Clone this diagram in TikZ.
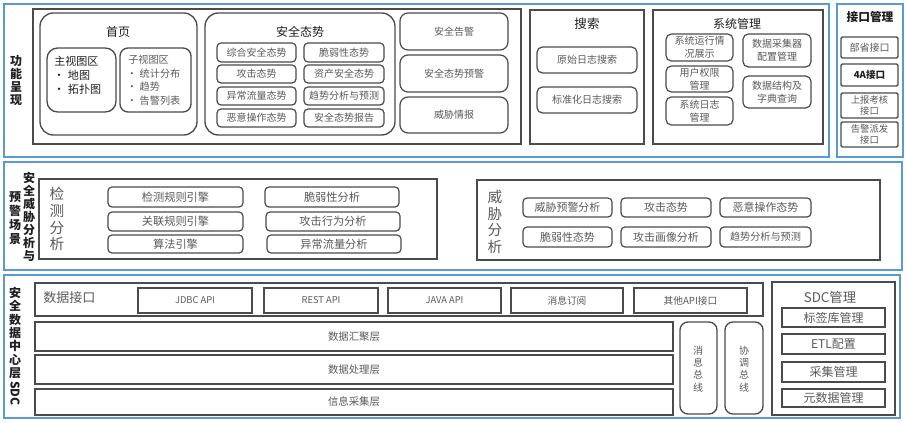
\documentclass[tikz,border=0pt]{standalone}
\usepackage{fontspec}
\newfontfamily\cjk{Noto Sans CJK SC}
\definecolor{bluec}{RGB}{91,155,213}
\definecolor{grayc}{RGB}{75,75,75}
\definecolor{txtg}{RGB}{90,90,90}
\definecolor{txtd}{RGB}{30,30,30}
\newcommand\bx[7]{\node[#1, minimum width={(#5-#3)*0.75pt}, minimum height={(#6-#4)*0.75pt}] (#2) at ({(#3+#5)/2},{(#4+#6)/2}) {#7};}
\tikzset{
  bluebox/.style={draw=bluec, line width=1.7pt, inner sep=0pt},
  graybox/.style={draw=grayc, line width=1pt, inner sep=0pt},
  bigr/.style={graybox, rounded corners=10pt},
  sr/.style={draw=grayc, line width=0.9pt, rounded corners=3pt, inner sep=0pt, text=txtg, align=center, font=\cjk\fontsize{7.5}{9.5}\selectfont},
  ss/.style={sr, rounded corners=0pt},
  ttl/.style={inner sep=0pt, text=txtd, font=\cjk\fontsize{9}{11}\selectfont},
  vlab/.style={inner sep=0pt, text=txtd, align=center, font=\cjk\bfseries\fontsize{9}{9.75}\selectfont},
  vbig/.style={inner sep=0pt, text=txtg, align=center, font=\cjk\fontsize{11}{12.6}\selectfont},
  vsm/.style={inner sep=0pt, text=txtg, align=center, font=\cjk\fontsize{7.5}{9.1}\selectfont},
}
\begin{document}
\begin{tikzpicture}[x=0.75pt,y=-0.75pt]
\useasboundingbox[fill=white] (0,0) rectangle (906,423);
% ===== Row 1 =====
\bx{bluebox}{b1}{4}{4}{829}{157}{}
\bx{bluebox}{b1r}{837}{4}{903}{157}{}
\node[vlab] (l1) at (16,81) {功\\能\\呈\\现};
\bx{graybox}{fa}{33}{9}{521}{144}{}
\bx{bigr}{hp}{40}{13}{197}{135}{}
\node[ttl] (hpt) at (118,32) {首页};
\bx{graybox, rounded corners=8pt}{zst}{47}{48}{116}{112}{}
\node[inner sep=0pt, anchor=north west, align=left, text=txtd, font=\cjk\fontsize{8.3}{10.5}\selectfont] (zstx) at (54,56) {主视图区\\[0pt]\hspace{-0.5pt}•\hspace{2.5pt}地图\\\hspace{-0.5pt}•\hspace{2.5pt}拓扑图};
\bx{graybox, rounded corners=6pt}{zit}{120}{48}{191}{112}{}
\node[inner sep=0pt, anchor=north west, align=left, text=txtg, font=\cjk\fontsize{7.6}{10.2}\selectfont] (zitx) at (128,55) {子视图区\\\hspace{-1pt}•\hspace{2pt}统计分布\\\hspace{-1pt}•\hspace{2pt}趋势\\\hspace{-1pt}•\hspace{2pt}告警列表};
\bx{bigr}{aq}{205}{13}{395}{135}{}
\node[ttl] (aqt) at (300,32) {安全态势};
\bx{sr}{a1}{217}{43}{296}{62}{综合安全态势}
\bx{sr}{a2}{304}{43}{384}{62}{脆弱性态势}
\bx{sr}{a3}{217}{65}{296}{83}{攻击态势}
\bx{sr}{a4}{304}{65}{384}{83}{资产安全态势}
\bx{sr}{a5}{217}{87}{296}{105}{异常流量态势}
\bx{sr}{a6}{304}{87}{384}{105}{趋势分析与预测}
\bx{sr}{a7}{217}{109}{296}{127}{恶意操作态势}
\bx{sr}{a8}{304}{109}{384}{127}{安全态势报告}
\bx{sr, rounded corners=6pt}{g1}{400}{13}{508}{50}{安全告警}
\bx{sr, rounded corners=6pt}{g2}{400}{55}{508}{92}{安全态势预警}
\bx{sr, rounded corners=6pt}{g3}{400}{97}{508}{133}{威胁情报}
\bx{graybox}{ss0}{530}{10}{644}{144}{}
\node[ttl, font=\cjk\fontsize{9.4}{11}\selectfont] (sst) at (587,24) {搜索};
\bx{sr, rounded corners=4pt}{s1}{537}{47}{637}{73}{原始日志搜索}
\bx{sr, rounded corners=4pt}{s2}{537}{87}{637}{113}{标准化日志搜索}
\bx{graybox}{sm}{653}{10}{823}{144}{}
\node[ttl] (smt) at (737,24) {系统管理};
\bx{sr, rounded corners=4pt}{m1}{666}{34}{733}{61}{系统运行情\\况展示}
\bx{sr, rounded corners=4pt}{m2}{666}{66}{733}{92}{用户权限\\管理}
\bx{sr, rounded corners=4pt}{m3}{666}{97}{733}{125}{系统日志\\管理}
\bx{sr, rounded corners=4pt}{m4}{743}{34}{811}{67}{数据采集器\\配置管理}
\bx{sr, rounded corners=4pt}{m5}{743}{76}{811}{108}{数据结构及\\字典查询}
\node[ttl, font=\cjk\bfseries\fontsize{8.8}{11}\selectfont] (jkt) at (870,17) {接口管理};
\bx{ss, line width=1.1pt, rounded corners=1pt}{j1}{841}{37}{898}{58}{部省接口}
\bx{ss, line width=1.1pt, rounded corners=1pt, text=txtd, font=\cjk\bfseries\fontsize{7.2}{9}\selectfont}{j2}{841}{64}{898}{86}{4A接口}
\bx{ss, line width=1.1pt, rounded corners=1pt, font=\cjk\fontsize{7}{8.8}\selectfont}{j3}{841}{93}{898}{118}{上报考核\\接口}
\bx{ss, line width=1.1pt, rounded corners=1pt, font=\cjk\fontsize{7}{8.8}\selectfont}{j4}{841}{122}{898}{147}{告警派发\\接口}
% ===== Row 2 =====
\bx{bluebox}{b2}{4}{162}{902}{270}{}
\node[vlab, font=\cjk\bfseries\fontsize{9}{9.7}\selectfont] (l2a) at (29,217) {安\\全\\威\\胁\\分\\析\\与};
\node[vlab, font=\cjk\bfseries\fontsize{9}{10.5}\selectfont] (l2b) at (15,218) {预\\警\\场\\景};
\bx{graybox}{jc}{39}{179}{437}{259}{}
\node[vbig] (jct) at (57,219) {检\\测\\分\\析};
\bx{sr, font=\cjk\fontsize{8.4}{10}\selectfont}{d1}{108}{187}{243}{207}{检测规则引擎}
\bx{sr, font=\cjk\fontsize{8.4}{10}\selectfont}{d2}{108}{212}{243}{231}{关联规则引擎}
\bx{sr, font=\cjk\fontsize{8.4}{10}\selectfont}{d3}{108}{235}{243}{253}{算法引擎}
\bx{sr, font=\cjk\fontsize{8.4}{10}\selectfont}{d4}{265}{187}{399}{207}{脆弱性分析}
\bx{sr, font=\cjk\fontsize{8.4}{10}\selectfont}{d5}{266}{212}{400}{231}{攻击行为分析}
\bx{sr, font=\cjk\fontsize{8.4}{10}\selectfont}{d6}{267}{235}{401}{253}{异常流量分析}
\bx{graybox}{wx}{477}{180}{880}{260}{}
\node[vbig] (wxt) at (495,222) {威\\胁\\分\\析};
\bx{sr, font=\cjk\fontsize{8.2}{10}\selectfont}{w1}{523}{198}{612}{217}{威胁预警分析}
\bx{sr, font=\cjk\fontsize{8.2}{10}\selectfont}{w2}{621}{198}{711}{217}{攻击态势}
\bx{sr, font=\cjk\fontsize{8.2}{10}\selectfont}{w3}{720}{198}{811}{217}{恶意操作态势}
\bx{sr, font=\cjk\fontsize{8.2}{10}\selectfont}{w4}{523}{227}{612}{247}{脆弱性态势}
\bx{sr, font=\cjk\fontsize{8.2}{10}\selectfont}{w5}{621}{227}{711}{247}{攻击画像分析}
\bx{sr, font=\cjk\fontsize{7.6}{10}\selectfont}{w6}{720}{227}{811}{247}{趋势分析与预测}
% ===== Row 3 =====
\bx{bluebox}{b3}{4}{275}{900}{418}{}
\node[vlab, font=\cjk\bfseries\fontsize{9}{10}\selectfont, anchor=north] (l3) at (15,287) {安\\全\\数\\据\\中\\心\\层};
\node[inner sep=0pt, text=txtd, font=\cjk\bfseries\fontsize{9}{11}\selectfont, rotate=-90, anchor=west] (l3b) at (15,381) {SDC};
\bx{graybox}{di}{35}{283}{763}{316}{}
\node[inner sep=0pt, anchor=west, text=txtg, font=\cjk\fontsize{9.8}{12}\selectfont] (dit) at (43,298) {数据接口};
\bx{ss, font=\cjk\fontsize{7}{9}\selectfont}{p1}{138}{288}{252}{313}{JDBC API}
\bx{ss, font=\cjk\fontsize{7}{9}\selectfont}{p2}{264}{288}{378}{313}{REST API}
\bx{ss, font=\cjk\fontsize{7}{9}\selectfont}{p3}{388}{288}{501}{313}{JAVA API}
\bx{ss, font=\cjk\fontsize{7.3}{9}\selectfont}{p4}{511}{288}{623}{313}{消息订阅}
\bx{ss, font=\cjk\fontsize{7.3}{9}\selectfont}{p5}{634}{288}{747}{313}{其他API接口}
\bx{ss, line width=1pt, font=\cjk\fontsize{7.8}{9}\selectfont}{y1}{35}{322}{673}{351}{数据汇聚层}
\bx{ss, line width=1pt, font=\cjk\fontsize{7.8}{9}\selectfont}{y2}{35}{355}{673}{384}{数据处理层}
\bx{ss, line width=1pt, font=\cjk\fontsize{7.8}{9}\selectfont}{y3}{35}{389}{673}{415}{信息采集层}
\bx{graybox, rounded corners=6pt}{xb}{680}{322}{717}{414}{}
\node[vsm] (xbt) at (698,369) {消\\息\\总\\线};
\bx{graybox, rounded corners=6pt}{tb}{725}{322}{763}{414}{}
\node[vsm] (tbt) at (744,369) {协\\调\\总\\线};
\bx{graybox}{sdc}{772}{282}{895}{415}{}
\node[ttl, text=txtg, font=\cjk\fontsize{10}{12}\selectfont] (sdct) at (830,297) {SDC管理};
\bx{ss, line width=1.1pt, font=\cjk\fontsize{9}{11}\selectfont}{k1}{782}{308}{885}{327}{标签库管理}
\bx{ss, line width=1.1pt, font=\cjk\fontsize{9}{11}\selectfont}{k2}{782}{334}{885}{354}{ETL配置}
\bx{ss, line width=1.1pt, font=\cjk\fontsize{9}{11}\selectfont}{k3}{782}{362}{885}{382}{采集管理}
\bx{ss, line width=1.1pt, font=\cjk\fontsize{9}{11}\selectfont}{k4}{782}{389}{885}{407}{元数据管理}
\end{tikzpicture}
\end{document}
